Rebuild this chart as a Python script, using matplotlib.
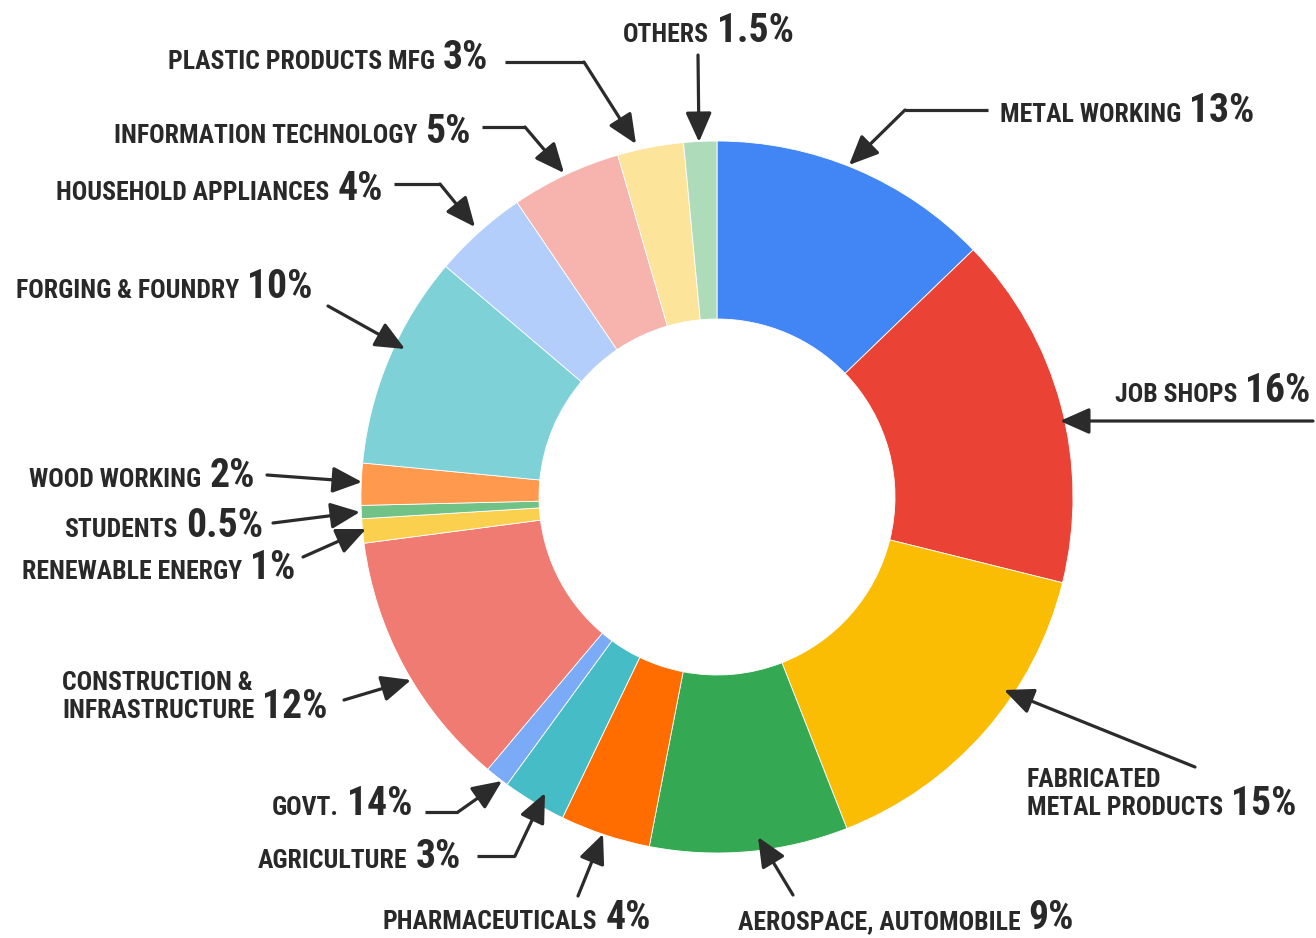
import matplotlib
matplotlib.use("Agg")
import matplotlib.pyplot as plt

plt.rcParams["font.family"] = ["Roboto Condensed", "DejaVu Sans"]

# ====== data (share of slice) ======
sectors = ["Metal working", "Job shops", "Fabricated metal products",
           "Aerospace, automobile", "Pharmaceuticals", "Agriculture", "Govt.",
           "Construction & infrastructure", "Renewable energy", "Students",
           "Wood working", "Forging & foundry", "Household appliances",
           "Information technology", "Plastic products mfg", "Others"]
shares = [12.8, 16.1, 15.2, 9.0, 4.1, 2.9, 1.1, 11.8, 1.1, 0.6, 1.9,
          9.7, 4.3, 5.0, 3.0, 1.5]
colors = ["#4285F4", "#EA4335", "#FBBC04", "#34A853", "#FF6D01", "#46BDC6",
          "#7BAAF7", "#F07B72", "#FCD04F", "#71C287", "#FF994D", "#7ED1D7",
          "#B3CEFB", "#F7B4AE", "#FDE49B", "#AEDCBA"]

# label texts as printed on the chart
label_names = ["METAL WORKING", "JOB SHOPS", "FABRICATED\nMETAL PRODUCTS",
               "AEROSPACE, AUTOMOBILE", "PHARMACEUTICALS", "AGRICULTURE", "GOVT.",
               "CONSTRUCTION &\nINFRASTRUCTURE", "RENEWABLE ENERGY", "STUDENTS",
               "WOOD WORKING", "FORGING & FOUNDRY", "HOUSEHOLD APPLIANCES",
               "INFORMATION TECHNOLOGY", "PLASTIC PRODUCTS MFG", "OTHERS"]
label_pcts = ["13%", "16%", "15%", "9%", "4%", "3%", "14%", "12%", "1%", "0.5%",
              "2%", "10%", "4%", "5%", "3%", "1.5%"]

W, H = 1316, 938
txt_color = "#292929"
arr_color = "#2b2b2b"

# label anchor: (x, baseline y of last line, align) in pixels from top-left
label_pos = [(1000, 122, "left"), (1115, 402, "left"), (1027, 815, "left"),
             (738, 929, "left"), (383, 929, "left"), (461, 868, "right"),
             (412, 815, "right"), (62, 718, "left"), (295, 579, "right"),
             (263, 537, "right"), (255, 487, "right"), (313, 298, "right"),
             (383, 200, "right"), (471, 143, "right"), (488, 69, "right"),
             (623, 42, "left")]

# arrow paths: tail ... elbow ... tip (pixels)
arrow_paths = [
    [(988, 110), (905, 110), (849, 165)],
    [(1313, 421), (1060, 421)],
    [(1195, 767), (1004, 690)],
    [(793, 895), (758, 837)],
    [(578, 896), (603, 834)],
    [(477, 856), (515, 856), (545, 793)],
    [(425, 812), (458, 812), (502, 781)],
    [(344, 700), (411, 680)],
    [(303, 557), (366, 529)],
    [(273, 523), (360, 512)],
    [(267, 475), (362, 482)],
    [(328, 306), (405, 349)],
    [(394, 184), (440, 184), (475, 227)],
    [(482, 127), (525, 127), (564, 173)],
    [(505, 62), (584, 62), (636, 144)],
    [(698, 55), (699, 142)],
]

FS_NAME = 18.5
FS_PCT = 28.5

fig = plt.figure(figsize=(W / 100, H / 100), dpi=100)
ax = fig.add_axes([0, 0, 1, 1])

ax.pie(shares, colors=colors, startangle=90, counterclock=False,
       radius=356, center=(717, H - 497),
       wedgeprops=dict(width=178, edgecolor="white", linewidth=0.6))
ax.set_xlim(0, W)
ax.set_ylim(0, H)
ax.set_aspect("equal")
ax.axis("off")

renderer = fig.canvas.get_renderer()


def text_w(t):
    return t.get_window_extent(renderer).width


def draw_label(name, pct, x, y, ha):
    lines = name.split("\n")
    yd = H - y
    # upper lines of two-line labels
    for k, ln in enumerate(lines[:-1]):
        ax.text(x, yd + 28 * (len(lines) - 1 - k), ln, fontsize=FS_NAME,
                fontweight="bold", color=txt_color, ha="left", va="baseline")
    last = lines[-1]
    if ha == "left":
        t = ax.text(x, yd, last, fontsize=FS_NAME, fontweight="bold",
                    color=txt_color, ha="left", va="baseline")
        ax.text(x + text_w(t) + 8, yd, pct, fontsize=FS_PCT, fontweight="bold",
                color=txt_color, ha="left", va="baseline")
    else:
        t = ax.text(x, yd, pct, fontsize=FS_PCT, fontweight="bold",
                    color=txt_color, ha="right", va="baseline")
        ax.text(x - text_w(t) - 8, yd, last, fontsize=FS_NAME, fontweight="bold",
                color=txt_color, ha="right", va="baseline")


def draw_arrow(path):
    pts = [(px, H - py) for px, py in path]
    if len(pts) > 2:
        xs, ys = zip(*pts[:-1])
        ax.plot(xs, ys, color=arr_color, lw=2.3, solid_capstyle="butt",
                solid_joinstyle="miter")
    ax.annotate("", xy=pts[-1], xytext=pts[-2],
                arrowprops=dict(arrowstyle="-|>,head_length=0.9,head_width=0.4",
                                color=arr_color, lw=2.3, mutation_scale=20,
                                shrinkA=0, shrinkB=0))


for name, pct, (x, y, ha) in zip(label_names, label_pcts, label_pos):
    draw_label(name, pct, x, y, ha)

for path in arrow_paths:
    draw_arrow(path)

fig.savefig("out.png", dpi=100, facecolor="white")
